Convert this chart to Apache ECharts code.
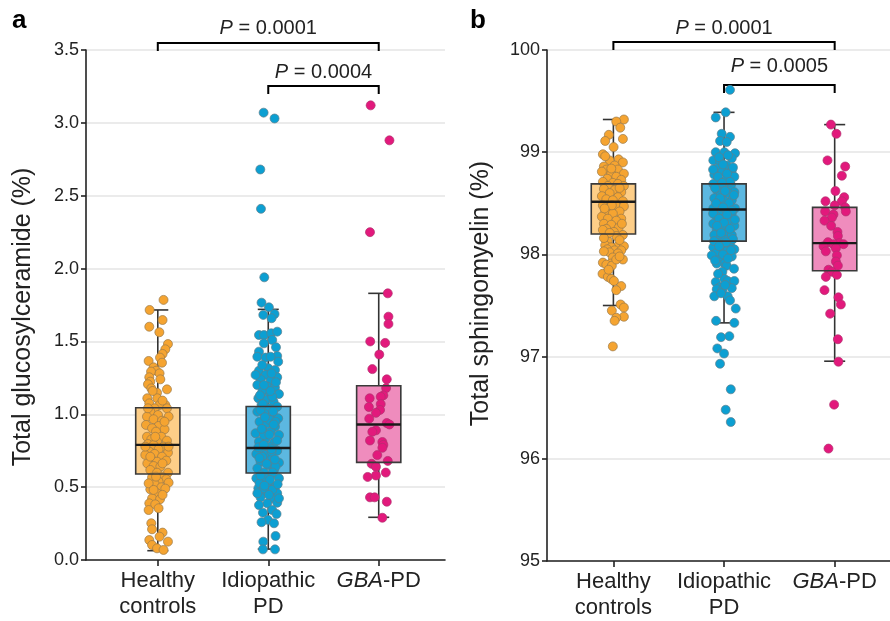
<!DOCTYPE html>
<html>
<head>
<meta charset="utf-8">
<script src="https://cdn.jsdelivr.net/npm/echarts@6/dist/echarts.min.js"></script>
<style>
  html, body { margin: 0; padding: 0; background: #fff; }
  #chart { width: 890px; height: 621px; }
</style>
</head>
<body>
<div id="chart"></div>
<script>
// ---- categories ----
const groupLabels = ['Healthy\ncontrols', 'Idiopathic\nPD', '{i|GBA}-PD'];
const groupPositions = [1, 2, 3];

// ---- tick labels ----
const gcTicks = [0, 0.5, 1.0, 1.5, 2.0, 2.5, 3.0, 3.5];
const smTicks = [95, 96, 97, 98, 99, 100];

// ---- box statistics: [lower whisker, Q1, median, Q3, upper whisker] ----
const gcBoxHealthy = [0.064, 0.59, 0.79, 1.045, 1.716];
const gcBoxIdiopathic = [0.075, 0.597, 0.769, 1.053, 1.72];
const gcBoxGBA = [0.293, 0.67, 0.93, 1.196, 1.83];

const smBoxHealthy = [97.50, 98.20, 98.515, 98.69, 99.32];
const smBoxIdiopathic = [97.33, 98.13, 98.44, 98.69, 99.39];
const smBoxGBA = [96.955, 97.84, 98.11, 98.46, 99.27];

// ---- samples: [horizontal jitter (category units), value] ----
const gcHealthy = [
  [0.052,1.785],[-0.074,1.716],[0.043,1.647],[-0.077,1.601],[0.014,1.563],[0.092,1.482],
  [0.068,1.446],[0.043,1.414],[0.020,1.389],[-0.083,1.366],[0.038,1.354],[-0.038,1.322],
  [-0.014,1.299],[-0.061,1.293],[0.016,1.281],[-0.077,1.254],[0.023,1.240],[-0.068,1.224],
  [-0.089,1.206],[0.083,1.171],[-0.059,1.178],[-0.007,1.148],[-0.095,1.110],[-0.005,1.110],
  [-0.077,1.075],[0.068,1.064],[0.016,1.064],[-0.029,1.041],[0.083,1.041],[-0.068,1.018],
  [0.098,0.984],[0.002,0.995],[-0.098,0.984],[-0.038,0.966],[0.038,0.956],[-0.107,0.927],
  [0.007,0.920],[-0.052,0.904],[0.061,0.897],[-0.016,0.881],[-0.098,0.846],[0.032,0.846],
  [-0.059,0.828],[0.083,0.819],[-0.007,0.812],[-0.089,0.796],[-0.038,0.789],[0.052,0.778],
  [0.007,0.760],[-0.077,0.744],[0.092,0.737],[-0.029,0.728],[-0.113,0.721],[0.038,0.709],
  [-0.059,0.691],[0.077,0.682],[-0.007,0.675],[-0.095,0.663],[-0.038,0.645],[0.023,0.641],
  [-0.068,0.618],[0.092,0.599],[-0.007,0.599],[0.038,0.572],[-0.052,0.567],[0.077,0.554],
  [0.007,0.538],[0.098,0.531],[-0.029,0.522],[0.032,0.499],[-0.068,0.485],[-0.007,0.458],
  [-0.052,0.423],[0.020,0.417],[-0.077,0.389],[-0.023,0.382],[0.007,0.355],[-0.083,0.343],
  [-0.059,0.252],[-0.052,0.211],[0.043,0.188],[0.016,0.160],[-0.077,0.137],[0.092,0.126],
  [-0.052,0.103],[-0.007,0.080],[0.052,0.069],
  [-0.047,1.160],[0.043,1.094],[-0.089,1.041],[0.061,0.949],[-0.023,0.846],[-0.113,0.778],
  [0.098,0.778],[-0.068,0.709],[0.043,0.663],[-0.016,0.572],[-0.083,0.526],[0.068,0.490],
  [-0.038,0.481],[0.043,0.447]
];

const gcIdiopathic = [
  [-0.042,3.07],[0.057,3.03],[-0.072,2.68],[-0.066,2.41],[-0.036,1.94],
  [-0.061,1.766],[0.006,1.734],[-0.045,1.682],[0.057,1.688],[0.030,1.659],[-0.084,1.544],
  [-0.039,1.544],[0.027,1.556],[0.081,1.567],[0.036,1.510],[-0.039,1.487],[0.070,1.460],
  [-0.084,1.430],[-0.099,1.395],[-0.024,1.389],[0.081,1.400],[0.090,1.361],[0.000,1.316],
  [-0.084,1.299],[0.061,1.304],[-0.024,1.270],[0.081,1.254],[-0.070,1.240],[0.021,1.231],
  [-0.099,1.201],[-0.009,1.190],[0.061,1.183],[-0.054,1.155],[0.097,1.139],[0.015,1.132],
  [-0.090,1.110],[-0.024,1.098],[0.048,1.087],[-0.061,1.064],[0.081,1.052],[0.006,1.041],
  [-0.099,1.018],[-0.033,1.002],[0.042,0.995],[0.090,0.972],[-0.079,0.949],[-0.009,0.938],
  [0.061,0.915],[-0.048,0.892],[0.021,0.881],[-0.115,0.870],[0.097,0.858],[-0.024,0.835],
  [-0.084,0.812],[0.052,0.805],[0.006,0.778],[-0.061,0.760],[0.081,0.750],[-0.108,0.728],
  [-0.024,0.721],[0.036,0.698],[-0.070,0.675],[0.097,0.668],[0.000,0.652],[-0.099,0.629],
  [0.052,0.618],[-0.039,0.599],[0.021,0.577],[-0.108,0.561],[0.097,0.561],[-0.054,0.538],
  [0.000,0.522],[0.061,0.503],[-0.090,0.492],[-0.024,0.469],[0.081,0.458],[-0.070,0.430],
  [0.030,0.423],[-0.009,0.389],[0.081,0.393],[-0.084,0.377],[0.036,0.343],[-0.048,0.325],
  [0.075,0.316],[-0.003,0.275],[-0.061,0.259],[0.052,0.252],[-0.045,0.126],[0.066,0.165],
  [-0.048,0.073],[0.061,0.073],
  [0.021,1.395],[-0.054,1.338],[0.030,1.281],[-0.115,1.270],[-0.039,1.201],[0.036,1.121],
  [-0.070,1.029],[0.012,0.961],[0.066,0.949],[-0.039,0.858],[-0.090,0.773],[0.030,0.743],
  [-0.054,0.709],[0.066,0.641],[-0.024,0.561],[-0.079,0.526],[0.036,0.481],[-0.039,0.492],
  [-0.099,0.458],[0.006,0.447],[0.097,0.423],
  [-0.030,0.98],[0.050,0.93],[-0.060,0.90],[0.010,0.86],[0.080,0.82],[-0.040,0.79],
  [0.030,0.76],[-0.080,0.70],[0.060,0.69],[-0.015,0.66],[0.040,0.60],[-0.070,0.58],
  [0.015,0.55],[0.085,0.52],[-0.035,0.51],[0.045,1.02],[-0.050,1.07],[0.020,1.16],
  [-0.075,1.13],[0.070,1.22]
];

const gcGBA = [
  [-0.073,3.12],[0.097,2.88],[-0.079,2.25],[0.082,1.83],[0.088,1.67],[0.088,1.62],
  [-0.077,1.50],[0.058,1.49],[0.005,1.41],[-0.058,1.31],[0.073,1.24],[0.067,1.18],
  [0.042,1.13],[-0.082,1.11],[0.018,1.12],[0.018,1.07],[-0.089,1.05],[0.012,1.03],
  [-0.025,1.01],[-0.086,0.97],[0.073,0.94],[0.097,0.93],[-0.025,0.89],[-0.058,0.88],
  [-0.079,0.82],[0.033,0.81],[0.042,0.79],[0.033,0.77],[-0.013,0.72],[-0.064,0.66],
  [0.082,0.68],[-0.025,0.64],[-0.025,0.58],[-0.100,0.57],[0.064,0.60],[-0.079,0.43],
  [-0.037,0.43],[0.073,0.40],[0.033,0.29]
];

const smHealthy = [
  [0.095,99.32],[0.026,99.30],[0.062,99.24],[-0.041,99.17],[-0.074,99.11],[0.086,99.13],
  [0.002,99.05],[-0.095,98.98],[0.047,98.93],[-0.034,98.92],[-0.086,98.86],[0.086,98.90],
  [0.011,98.87],[-0.064,98.83],[0.041,98.83],[-0.104,98.81],[0.095,98.79],[-0.019,98.79],
  [0.026,98.76],[-0.055,98.74],[0.071,98.73],[-0.095,98.71],[-0.005,98.70],[0.041,98.69],
  [-0.050,98.67],[0.095,98.67],[-0.086,98.64],[0.011,98.63],[0.071,98.61],[-0.034,98.60],
  [-0.104,98.57],[0.041,98.56],[-0.064,98.54],[-0.005,98.53],[0.086,98.52],[-0.095,98.48],
  [0.026,98.47],[-0.034,98.46],[0.095,98.47],[-0.074,98.42],[0.056,98.42],[-0.005,98.40],
  [-0.104,98.37],[-0.050,98.35],[0.071,98.35],[0.026,98.33],[-0.086,98.30],[-0.019,98.29],
  [0.047,98.26],[-0.064,98.25],[-0.095,98.24],[0.005,98.22],[0.086,98.19],[0.026,98.18],
  [-0.050,98.13],[-0.074,98.09],[0.041,98.08],[0.095,98.08],[-0.019,98.07],[-0.055,98.05],
  [0.011,98.04],[0.071,98.04],[-0.034,98.02],[-0.086,98.03],[0.041,98.01],[0.086,97.95],
  [-0.005,97.97],[-0.095,97.92],[-0.025,97.91],[-0.064,97.90],[-0.014,97.89],[-0.098,97.81],
  [-0.050,97.78],[-0.019,97.76],[0.005,97.74],[0.071,97.69],[0.026,97.65],[0.065,97.51],
  [0.095,97.48],[-0.014,97.45],[0.095,97.39],[0.026,97.38],[0.011,97.35],[-0.005,97.10],
  [-0.074,98.96],[-0.019,98.84],[0.056,98.65],[-0.014,98.48],[-0.080,98.45],[0.077,98.30],
  [-0.034,98.21],[0.056,98.14],[-0.086,98.16],[0.026,97.95],[0.056,97.98],[-0.043,97.85]
];

const smIdiopathic = [
  [0.054,99.61],[0.015,99.39],[-0.075,99.34],[-0.021,99.18],[0.054,99.15],[-0.036,99.11],
  [0.024,99.10],[-0.075,99.00],[0.003,99.00],[0.099,98.99],[-0.097,98.92],[0.070,98.94],
  [-0.036,98.91],[0.024,98.87],[-0.066,98.84],[0.070,98.82],[-0.015,98.81],[-0.088,98.78],
  [0.093,98.76],[0.024,98.74],[-0.052,98.73],[-0.097,98.69],[0.063,98.68],[-0.006,98.66],
  [-0.066,98.63],[0.093,98.61],[0.033,98.60],[-0.036,98.57],[-0.088,98.55],[0.070,98.53],
  [0.003,98.52],[-0.057,98.48],[0.039,98.47],[-0.097,98.45],[0.099,98.45],[-0.021,98.42],
  [0.070,98.40],[-0.075,98.38],[0.015,98.37],[-0.036,98.34],[0.054,98.32],[-0.097,98.30],
  [0.093,98.28],[-0.006,98.27],[-0.066,98.24],[0.033,98.22],[0.070,98.19],[-0.088,98.19],
  [-0.027,98.17],[0.009,98.14],[-0.057,98.11],[0.054,98.10],[-0.097,98.07],[-0.015,98.06],
  [0.093,98.05],[0.024,98.03],[-0.075,98.01],[-0.111,97.99],[0.070,97.98],[-0.036,97.95],
  [0.003,97.91],[-0.066,97.91],[0.024,97.89],[-0.015,97.83],[0.003,97.76],[0.033,97.74],
  [0.093,97.74],[-0.075,97.73],[0.070,97.67],[-0.036,97.68],[-0.066,97.66],[-0.015,97.65],
  [-0.088,97.59],[0.033,97.59],[0.106,97.47],[-0.072,97.35],[0.093,97.33],[-0.027,97.19],
  [0.048,97.20],[-0.061,97.08],[0.000,97.03],[-0.036,96.93],[0.061,96.68],[0.015,96.48],
  [0.061,96.36],
  [-0.045,98.95],[0.036,98.97],[-0.009,98.88],[0.081,98.85],[-0.099,98.83],[0.027,98.79],
  [-0.054,98.76],[0.054,98.71],[-0.018,98.70],[-0.081,98.65],[0.009,98.62],[0.090,98.58],
  [-0.036,98.55],[0.045,98.50],[-0.072,98.50],[-0.009,98.46],[0.072,98.43],[-0.099,98.40],
  [0.027,98.39],[-0.045,98.35],[0.099,98.34],[0.000,98.31],[-0.063,98.28],[0.054,98.25],
  [-0.027,98.21],[0.081,98.15],[-0.090,98.13],[0.018,98.12],[-0.045,98.08],[0.063,98.04],
  [-0.009,98.00],[0.036,97.96],[-0.081,97.94],[0.090,97.86],[-0.054,97.81],[0.009,97.70],
  [-0.027,97.62],[0.054,97.55]
];

const smGBA = [
  [-0.034,99.27],[0.016,99.18],[-0.065,98.92],[0.095,98.86],[0.065,98.77],[0.007,98.62],
  [0.086,98.56],[-0.083,98.52],[0.065,98.52],[0.000,98.48],[0.095,98.46],[0.101,98.42],
  [-0.086,98.42],[-0.011,98.39],[-0.025,98.36],[-0.092,98.33],[-0.032,98.28],[0.025,98.22],
  [0.029,98.18],[-0.061,98.12],[0.043,98.11],[-0.101,98.08],[-0.011,98.10],[0.080,98.10],
  [-0.080,98.03],[0.011,98.06],[0.020,97.99],[0.011,97.93],[0.029,97.89],[-0.056,97.85],
  [-0.025,97.83],[0.020,97.80],[-0.080,97.78],[-0.092,97.65],[0.034,97.58],[0.056,97.51],
  [-0.041,97.42],[0.029,97.17],[0.034,96.95],[-0.005,96.53],[-0.056,96.10]
];

// ---- pairwise comparisons: [from group, to group, P value] ----
const gcComparisons = [[1, 3, '0.0001'], [2, 3, '0.0004']];
const smComparisons = [[1, 3, '0.0001'], [2, 3, '0.0005']];

// ---- styling ----
const FONT = '"Liberation Sans", Arial, Helvetica, sans-serif';
const TEXT = '#222';
const palette = [
  { point: '#F5A431', border: '#9a7a4a', box: '#FDCE88' },
  { point: '#0C9FD2', border: '#5e7f8c', box: '#5CB8E1' },
  { point: '#E2197C', border: '#b0306e', box: '#EF8CBD' }
];
const BOX_WIDTH = 0.4;
const CAP_WIDTH = 0.19;

const boxRows = (boxes) => boxes.map((b, i) => [groupPositions[i], ...b]);

function boxBackRender(params, api) {
  const x = api.value(0);
  const lo = api.coord([x, api.value(1)]);
  const q1 = api.coord([x, api.value(2)]);
  const q3 = api.coord([x, api.value(4)]);
  const hi = api.coord([x, api.value(5)]);
  const half = api.size([BOX_WIDTH, 0])[0] / 2;
  const cap = api.size([CAP_WIDTH, 0])[0] / 2;
  const lineStyle = { stroke: '#333', lineWidth: 1.6 };
  const fill = palette[params.dataIndex].box;
  return {
    type: 'group',
    children: [
      { type: 'line', shape: { x1: lo[0], y1: lo[1], x2: q1[0], y2: q1[1] }, style: lineStyle },
      { type: 'line', shape: { x1: q3[0], y1: q3[1], x2: hi[0], y2: hi[1] }, style: lineStyle },
      { type: 'line', shape: { x1: lo[0] - cap, y1: lo[1], x2: lo[0] + cap, y2: lo[1] }, style: lineStyle },
      { type: 'line', shape: { x1: hi[0] - cap, y1: hi[1], x2: hi[0] + cap, y2: hi[1] }, style: lineStyle },
      { type: 'rect', shape: { x: q3[0] - half, y: q3[1], width: half * 2, height: q1[1] - q3[1] },
        style: { fill: fill, stroke: null } }
    ]
  };
}

function boxFrontRender(params, api) {
  const x = api.value(0);
  const q1 = api.coord([x, api.value(2)]);
  const med = api.coord([x, api.value(3)]);
  const q3 = api.coord([x, api.value(4)]);
  const half = api.size([BOX_WIDTH, 0])[0] / 2;
  return {
    type: 'group',
    children: [
      { type: 'rect', shape: { x: q3[0] - half, y: q3[1], width: half * 2, height: q1[1] - q3[1] },
        style: { fill: null, stroke: '#3a3a3a', lineWidth: 1.6 } },
      { type: 'line', shape: { x1: med[0] - half, y1: med[1], x2: med[0] + half, y2: med[1] },
        style: { stroke: '#1a1a1a', lineWidth: 2.4 } }
    ]
  };
}

function scatterSeries(points, groupIdx, axisIdx) {
  const c = palette[groupIdx];
  return {
    type: 'scatter',
    xAxisIndex: axisIdx, yAxisIndex: axisIdx,
    z: 3,
    symbolSize: 9,
    data: points.map(([j, v]) => [groupPositions[groupIdx] + j, v]),
    itemStyle: { color: c.point, borderColor: c.border, borderWidth: 0.7, opacity: 1 },
    silent: true
  };
}

function xAxisFor(gridIndex, min, max) {
  return {
    type: 'value', gridIndex, min, max,
    axisLine: { show: true, onZero: false, lineStyle: { color: '#222', width: 1.6 } },
    axisTick: { show: true, customValues: groupPositions, length: 6, lineStyle: { color: '#222', width: 1.6 } },
    axisLabel: {
      customValues: groupPositions,
      formatter: (v) => groupLabels[Math.round(v) - 1],
      fontFamily: FONT, fontSize: 22, color: TEXT, lineHeight: 26, margin: 8,
      rich: { i: { fontStyle: 'italic', fontFamily: FONT, fontSize: 22, color: TEXT } }
    },
    splitLine: { show: false }
  };
}

function yAxisFor(gridIndex, ticks, name, nameGap, namePadding, decimals) {
  return {
    type: 'value', gridIndex,
    min: ticks[0], max: ticks[ticks.length - 1], interval: ticks[1] - ticks[0],
    name, nameLocation: 'middle', nameGap,
    nameTextStyle: { fontFamily: FONT, fontSize: 25, color: TEXT, padding: namePadding },
    axisLine: { show: true, lineStyle: { color: '#222', width: 1.6 } },
    axisTick: { show: true, length: 5, lineStyle: { color: '#222', width: 1.6 } },
    axisLabel: {
      fontFamily: FONT, fontSize: 18, color: TEXT, margin: 7,
      formatter: (v) => v.toFixed(decimals)
    },
    splitLine: { show: true, lineStyle: { color: '#e4e4e4', width: 1.6 } }
  };
}

const chart = echarts.init(document.getElementById('chart'), null, { renderer: 'canvas' });

chart.setOption({
  animation: false,
  backgroundColor: '#fff',
  grid: [
    { left: 86, right: 445, top: 50, bottom: 61 },
    { left: 547, right: 0, top: 50, bottom: 60 }
  ],
  xAxis: [xAxisFor(0, 0.35, 3.6), xAxisFor(1, 0.4, 3.5)],
  yAxis: [
    yAxisFor(0, gcTicks, 'Total glucosylceramide (%)', 50, [0, 24, 0, 0], 1),
    yAxisFor(1, smTicks, 'Total sphingomyelin (%)', 53, [0, 0, 0, 24], 0)
  ],
  series: [
    { type: 'custom', xAxisIndex: 0, yAxisIndex: 0, z: 2, silent: true,
      renderItem: boxBackRender, data: boxRows([gcBoxHealthy, gcBoxIdiopathic, gcBoxGBA]) },
    { type: 'custom', xAxisIndex: 1, yAxisIndex: 1, z: 2, silent: true,
      renderItem: boxBackRender, data: boxRows([smBoxHealthy, smBoxIdiopathic, smBoxGBA]) },
    scatterSeries(gcHealthy, 0, 0),
    scatterSeries(gcIdiopathic, 1, 0),
    scatterSeries(gcGBA, 2, 0),
    scatterSeries(smHealthy, 0, 1),
    scatterSeries(smIdiopathic, 1, 1),
    scatterSeries(smGBA, 2, 1),
    { type: 'custom', xAxisIndex: 0, yAxisIndex: 0, z: 4, silent: true,
      renderItem: boxFrontRender, data: boxRows([gcBoxHealthy, gcBoxIdiopathic, gcBoxGBA]) },
    { type: 'custom', xAxisIndex: 1, yAxisIndex: 1, z: 4, silent: true,
      renderItem: boxFrontRender, data: boxRows([smBoxHealthy, smBoxIdiopathic, smBoxGBA]) }
  ]
});

// Significance brackets above each panel, anchored to the group positions on each x axis
function bracketGraphics(axisIdx, comparisons, levels) {
  const out = [];
  comparisons.forEach(([from, to, p], k) => {
    const x1 = chart.convertToPixel({ xAxisIndex: axisIdx }, from);
    const x2 = chart.convertToPixel({ xAxisIndex: axisIdx }, to);
    const lv = levels[k];
    out.push({
      type: 'polyline', silent: true,
      shape: { points: [[x1, lv.line + 8], [x1, lv.line], [x2, lv.line], [x2, lv.line + 8]] },
      style: { stroke: '#000', lineWidth: 2, fill: null }
    });
    out.push({
      type: 'text', silent: true,
      x: (x1 + x2) / 2, y: lv.text,
      style: {
        text: '{i|P} = ' + p,
        rich: { i: { fontStyle: 'italic', fontFamily: FONT, fontSize: 20, fill: TEXT } },
        font: '20px ' + FONT, fill: TEXT, align: 'center', verticalAlign: 'middle'
      }
    });
  });
  return out;
}

chart.setOption({
  graphic: [
    { type: 'text', left: 12, top: 8, silent: true,
      style: { text: 'a', font: 'bold 26px ' + FONT, fill: '#000' } },
    { type: 'text', left: 470, top: 8, silent: true,
      style: { text: 'b', font: 'bold 26px ' + FONT, fill: '#000' } },
    ...bracketGraphics(0, gcComparisons, [{ line: 43, text: 28 }, { line: 86, text: 72 }]),
    ...bracketGraphics(1, smComparisons, [{ line: 42, text: 28 }, { line: 85, text: 66 }])
  ]
});
</script>
</body>
</html>
